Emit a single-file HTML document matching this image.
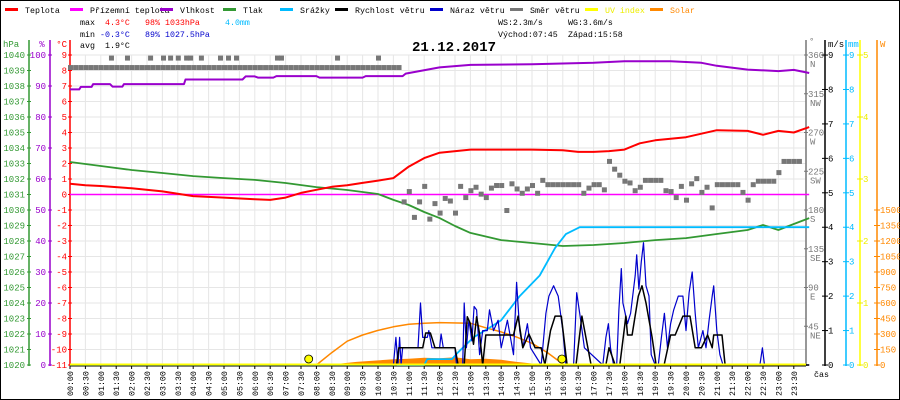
<!DOCTYPE html>
<html><head><meta charset="utf-8">
<style>
body{margin:0;background:#fff}
svg{display:block;font-family:"Liberation Mono",monospace}
text{font-size:9px}
.sm{font-size:8.3px}
</style></head>
<body>
<svg id="chart" width="900" height="400" viewBox="0 0 900 400" xmlns="http://www.w3.org/2000/svg">
<rect x="0.5" y="0.5" width="899" height="399" fill="#fff" stroke="#000"/>
<g id="grid"></g>
<g id="legend"></g>
<g class="sm">
<text class="sm" x="80" y="25" fill="#000">max</text><text class="sm" x="105" y="25" fill="#f00">4.3°C</text><text class="sm" x="145" y="25" fill="#f00">98%</text><text class="sm" x="165" y="25" fill="#f00">1033hPa</text><text class="sm" x="225" y="25" fill="#0bf">4.0mm</text>
<text class="sm" x="80" y="37" fill="#000">min</text><text class="sm" x="100" y="37" fill="#00c">-0.3°C</text><text class="sm" x="145" y="37" fill="#00c">89%</text><text class="sm" x="165" y="37" fill="#00c">1027.5hPa</text>
<text class="sm" x="80" y="48" fill="#000">avg</text><text class="sm" x="105" y="48" fill="#000">1.9°C</text>
<text class="sm" x="498" y="25" fill="#000">WS:2.3m/s</text><text class="sm" x="568" y="25" fill="#000">WG:3.6m/s</text>
<text class="sm" x="498" y="37" fill="#000">Východ:07:45</text><text class="sm" x="568" y="37" fill="#000">Západ:15:58</text>
</g>
<text x="412" y="51" font-weight="bold" style="font-size:14px" fill="#000">21.12.2017</text>
<g id="axes"></g>
<g id="series"></g>
<text x="814" y="377" class="sm" fill="#000">čas</text>
</svg>
<script>
const tempT=[0,0.5,1,2,3,4,5,6,6.5,7,7.5,8,8.5,9,9.5,10,10.5,11,11.5,12,13,14,15,16,16.5,17,17.5,18,18.5,19,20,21,22,22.5,23,23.5,24];
const tempV=[0.7,0.6,0.55,0.4,0.2,-0.1,-0.2,-0.3,-0.35,-0.2,0.1,0.3,0.5,0.6,0.75,0.9,1.06,1.8,2.35,2.7,2.9,2.9,2.9,2.85,2.75,2.75,2.8,2.9,3.3,3.5,3.7,4.15,4.1,3.85,4.1,4.0,4.35];
const dewT=[0,24];
const dewV=[0,0];
const humT=[0,0.3,0.35,0.7,0.75,1.3,1.38,1.7,1.75,3.7,3.75,5.6,5.7,6.0,6.1,6.6,6.7,8.0,8.1,9.5,9.6,10.8,10.9,12,13,15,17,18,19.5,20.5,21,22,23,23.5,24];
const humV=[88.9,88.9,89.7,89.7,90.6,90.6,89.8,89.8,90.6,90.6,92.1,92.1,93.1,93.1,92.7,92.7,93.2,93.2,92.7,92.7,93.2,93.2,94.0,96,96.8,97,97.5,98,98,97.5,96.5,95.3,94.8,95.2,94.2];
const presT=[0,1,2,3,4,5,6,7,8,9,10,10.5,11,11.5,12,12.5,13,14,15,16,17,18,19,20,21,22,22.5,23,23.5,24];
const presV=[1033.1,1032.84,1032.58,1032.39,1032.19,1032.06,1031.94,1031.74,1031.48,1031.29,1031.03,1030.65,1030.32,1029.87,1029.48,1028.97,1028.52,1028.06,1027.87,1027.68,1027.74,1027.87,1028.06,1028.19,1028.45,1028.71,1029.03,1028.71,1029.1,1029.48];
const rainT=[0,11.5,11.6,12.4,12.6,13.1,13.6,14,14.6,15.25,15.75,16.1,16.55,24];
const rainV=[0,0,0.17,0.17,0.37,0.8,1.07,1.3,2.0,2.6,3.4,3.8,4.0,4.0];
const windT=[0,10.6,10.68,11.45,11.55,11.7,11.85,12.5,12.6,12.8,12.9,13.0,13.1,13.2,13.3,13.4,13.5,14.4,14.55,14.7,14.9,15.1,15.3,15.42,15.6,15.75,15.95,16.14,16.43,16.62,16.92,17.4,17.5,17.7,17.85,18.05,18.1,18.25,18.45,18.57,18.7,18.9,19.03,19.29,19.5,19.65,19.9,20.13,20.3,20.5,20.7,20.85,20.9,21.17,21.27,24];
const windV=[0,0,0.5,0.5,0.93,0.93,0.5,0.5,0,0,1.4,1.2,0.6,1.4,0.9,0,0.87,0.87,1.42,0.5,0.9,0.5,0.5,0,1.0,1.42,1.42,0,0,1.42,0,0,0.5,0,0,1.42,0.87,0.87,2.0,2.3,1.8,0.8,0,0,0.87,0.87,1.42,1.42,0.5,0.5,0.87,0.5,0.87,0.87,0,0];
const gustT=[0,10.5,10.58,10.65,10.7,10.75,10.8,11.3,11.38,11.45,11.6,11.65,11.75,12.0,12.05,12.12,12.5,12.55,12.75,12.8,12.87,12.95,13.05,13.12,13.2,13.3,13.4,13.55,13.62,13.75,13.9,14.0,14.2,14.4,14.5,14.6,14.7,14.85,14.95,15.3,15.45,15.55,15.7,15.85,16.0,16.1,16.35,16.45,16.55,16.7,17.3,17.4,17.48,17.55,17.65,17.75,17.82,17.9,17.95,18.1,18.2,18.35,18.4,18.47,18.55,18.62,18.7,18.8,18.87,19.0,19.1,19.2,19.3,19.4,19.5,19.6,19.75,19.9,20.0,20.1,20.2,20.3,20.4,20.55,20.65,20.75,20.85,20.9,21.0,21.1,21.2,22.4,22.48,22.55,24];
const gustV=[0,0,0.8,0,0.8,0,0.5,0.5,1.8,0.8,0.8,1.0,0.5,0.5,0.9,0.5,0.5,0,0,1.8,0.5,1.3,0.7,1.7,1.6,0.3,1.0,1.0,1.6,1.0,1.3,0.5,1.3,0.3,2.4,1.0,0.5,1.2,0.5,0,1.5,2.0,2.3,2.0,1.0,0,0,2.1,1.5,0.5,0,0.8,1.2,0.5,0,0,1.6,2.8,1.8,1.2,1.5,2.6,3.2,2.2,3.0,3.55,2.3,2.0,0.3,0,0,0.8,1.5,0.5,1.2,1.6,2.0,2.0,1.0,2.1,2.7,1.5,0.5,1.0,0.5,1.3,2.0,2.3,1.0,0.3,0,0,0.5,0,0];
const dirEarly=[346,346,346,346,346,346,346,346,346,346,346,346,346,346,346,346,346,346,346,346,346,346,346,346,346,346,346,346,346,346,346,346,346,346,346,346,346,346,346,346,346,346,346,346,346,346,346,346,346,346,346,346,346,346,346,346,346,346,346,346,346,346,346,346,346];
const dirHighT=[1.33,1.85,2.6,3.02,3.25,3.5,3.77,3.9,4.25,4.87,5.13,5.39,6.72,6.85,8.67,10.0];
const dirHighV=[357,357,357,357,357,357,357,357,357,357,357,357,357,357,357,357];
const dirLate=[190,202,172,190,208,170,188,177,194,191,177,208,195,203,207,199,195,206,209,209,180,211,205,200,205,209,200,215,210,210,210,210,210,210,210,200,206,210,210,204,237,228,221,214,212,203,207,215,215,215,215,203,202,195,208,192,211,217,201,207,183,210,210,210,210,210,201,192,210,214,214,214,214,224,237,237,237,237];
const solMaxT=[8,8.5,9,9.5,10,10.5,11,11.5,12,13,13.5,14,14.5,15,15.5,16];
const solMaxV=[0,120,230,290,335,370,395,405,410,405,360,320,270,210,120,10];
const solT=[8.3,8.8,9.3,10,10.5,11,11.5,12,12.5,13,13.5,14,14.5,15,15.5,15.9];
const solV=[0,15,30,45,55,60,70,65,75,55,60,50,30,15,8,0];
const sunT=[7.75,15.97];
const hpaTicks=[1040,1039,1038,1037,1036,1035,1034,1033,1032,1031,1030,1029,1028,1027,1026,1025,1024,1023,1022,1021,1020];
const humTicks=[100,90,80,70,60,50,40,30,20,10,0];
const tempTicks=[9,8,7,6,5,4,3,2,1,0,-1,-2,-3,-4,-5,-6,-7,-8,-9,-10,-11];
const dirTicks=[360,315,270,225,180,135,90,45];
const dirNames=["N","NW","W","SW","S","SE","E","NE"];
const msTicks=[0,1,2,3,4,5,6,7,8,9];
const uvTicks=[0,1,2,3,4,5];
const wTicks=[0,150,300,450,600,750,900,1050,1200,1350,1500];
const timeLabels=["00:00","00:30","01:00","01:30","02:00","02:30","03:00","03:30","04:00","04:30","05:00","05:30","06:00","06:30","07:00","07:30","08:00","08:30","09:00","09:30","10:00","10:30","11:00","11:30","12:00","12:30","13:00","13:30","14:00","14:30","15:00","15:30","16:00","16:30","17:00","17:30","18:00","18:30","19:00","19:30","20:00","20:30","21:00","21:30","22:00","22:30","23:00","23:30"];

const NS="http://www.w3.org/2000/svg";
const X=t=>70+t*30.8;
const yT=c=>194.5-c*15.5;
const yH=h=>365-h*3.1;
const yP=p=>55+(1040-p)*15.5;
const yW=v=>365-v*34.44;
const yD=d=>365-d*0.8611;
const yUV=u=>365-u*62;
const yS=w=>365-w*0.10333;
function mk(tag,attrs,parent){const e=document.createElementNS(NS,tag);for(const k in attrs)e.setAttribute(k,attrs[k]);parent.appendChild(e);return e;}
const grid=document.getElementById('grid'),axes=document.getElementById('axes'),ser=document.getElementById('series'),leg=document.getElementById('legend');

timeLabels.forEach((l,i)=>{const x=X(i*0.5);const ln=mk('line',{x1:x,x2:x,y1:55,y2:365,stroke:'#e6e6e6'},grid);


const tk=mk('line',{x1:x,x2:x,y1:365,y2:369,stroke:'#000'},axes);


const tx=mk('text',{x:0,y:0,class:'sm',transform:`translate(${x+3},396) rotate(-90)`,fill:'#000'},axes);tx.textContent=l;

});
tempTicks.forEach(c=>{const y=yT(c);const ln=mk('line',{x1:70,x2:806,y1:y,y2:y,stroke:'#e6e6e6'},grid);

});

const legItems=[["Teplota","#f00",5],["Přízemní teplota","#f0f",70],["Vlhkost","#90c",160],["Tlak","#393",223],["Srážky","#0bf",280],["Rychlost větru","#000",335],["Náraz větru","#00c",430],["Směr větru","#777",510],["UV index","#ff0",585],["Solar","#f80",650]];
legItems.forEach(it=>{const r=mk('rect',{x:it[2],y:8,width:13,height:3,fill:it[1]},leg);


const t=mk('text',{x:it[2]+20,y:13,class:'sm',fill:it[1]==="#ff0"?"#ee0":it[1]==="#f80"?"#f80":"#000"},leg);t.textContent=it[0];

});

function vaxis(x,color,y1,y2){const l=mk('line',{x1:x,x2:x,y1:y1,y2:y2,stroke:color,'stroke-width':1.5},axes);

}
vaxis(29,'#393',40,366);vaxis(50,'#90c',40,366);vaxis(70,'#f00',40,366);
function lbl(x,y,s,color,anchor,name){const t=mk('text',{x:x,y:y,fill:color,'text-anchor':anchor},axes);t.textContent=s;

return t;}
lbl(3,47,'hPa','#393','start','hpa-axis-title');lbl(42,47,'%','#90c','middle','humidity-axis-title');lbl(67,47,'°C','#f00','end','temp-axis-title');
hpaTicks.forEach(p=>{const y=yP(p);lbl(25,y+3,String(p),'#393','end','hpa-tick-label');mk('line',{x1:27,x2:31,y1:y,y2:y,stroke:'#393'},axes);});
humTicks.forEach(h=>{const y=yH(h);lbl(46,y+3,String(h),'#90c','end','humidity-tick-label');mk('line',{x1:48,x2:52,y1:y,y2:y,stroke:'#90c'},axes);});
tempTicks.forEach(c=>{const y=yT(c);lbl(67,y+3,String(c),'#f00','end','temp-tick-label');mk('line',{x1:68,x2:72,y1:y,y2:y,stroke:'#f00'},axes);});

vaxis(806,'#777',40,366);vaxis(825,'#000',40,366);vaxis(846,'#0bf',40,366);vaxis(860,'#ff0',40,366);vaxis(877,'#f80',40,366);
lbl(809,44,'°','#777','start','direction-axis-title');lbl(828,47,'m/s','#000','start','wind-axis-title');lbl(848,47,'mm','#0bf','start','rain-axis-title');lbl(880,47,'W','#f80','start','solar-axis-title');
dirTicks.forEach((d,i)=>{const y=yD(d);mk('line',{x1:804,x2:808,y1:y,y2:y,stroke:'#777'},axes);lbl(808,y+3,String(d),'#777','start','direction-tick-label');lbl(810,y+12,dirNames[i],'#777','start','direction-name-label');});
msTicks.forEach(v=>{const y=yW(v);mk('line',{x1:822,x2:828,y1:y,y2:y,stroke:'#000'},axes);lbl(828,y+3,String(v),'#000','start','wind-tick-label');
mk('line',{x1:843,x2:849,y1:y,y2:y,stroke:'#0bf'},axes);lbl(849,y+3,String(v),'#0bf','start','rain-tick-label');});
uvTicks.forEach(u=>{const y=yUV(u);mk('line',{x1:857,x2:863,y1:y,y2:y,stroke:'#ee0'},axes);lbl(863,y+3,String(u),'#ee0','start','uv-tick-label');});
wTicks.forEach(w=>{const y=yS(w);mk('line',{x1:874,x2:880,y1:y,y2:y,stroke:'#f80'},axes);lbl(880,y+3,String(w),'#f80','start','solar-tick-label');});

function line(ts,vs,fy,color,w,name){const pts=ts.map((t,i)=>X(t).toFixed(1)+','+fy(vs[i]).toFixed(1)).join(' ');
const p=mk('polyline',{points:pts,fill:'none',stroke:color,'stroke-width':w,'stroke-linejoin':'round'},ser);

return p;}
{const pts=[X(solT[0])+','+365].concat(solT.map((t,i)=>X(t).toFixed(1)+','+yS(solV[i]).toFixed(1))).concat([X(solT[solT.length-1])+','+365]).join(' ');
const p=mk('polygon',{points:pts,fill:'#f80'},ser);

}
line(solMaxT,solMaxV,yS,'#f80',1.5,'solar-max-line');
line(dewT,dewV,yT,'#f0f',1.5,'dewpoint-line');
line(humT,humV,yH,'#90c',2,'humidity-line');
line(presT,presV,yP,'#393',1.8,'pressure-line');
line(tempT,tempV,yT,'#f00',2,'temperature-line');
line(rainT,rainV,yW,'#0bf',1.8,'rain-line');
line(gustT,gustV,yW,'#00c',1.2,'gust-line');
line(windT,windV,yW,'#000',1.5,'wind-speed-line');
function dot(t,d){const r=mk('rect',{x:X(t)-2,y:yD(d)-2,width:5,height:5,fill:'#777'},ser);

}
dirEarly.forEach((d,i)=>dot(i/6,d));
dirHighT.forEach((t,i)=>dot(t,dirHighV[i]));
dirLate.forEach((d,i)=>dot(10+50/60+i/6,d));
{const b=mk('line',{x1:70,x2:806,y1:366,y2:366,stroke:'#000'},axes);


const u=mk('line',{x1:70,x2:806,y1:364.5,y2:364.5,stroke:'#ff0','stroke-width':2},ser);

}
sunT.forEach(t=>{const c=mk('circle',{cx:X(t),cy:359,r:4,fill:'#ff0',stroke:'#000','stroke-width':0.8},ser);

});
</script>
</body></html>
